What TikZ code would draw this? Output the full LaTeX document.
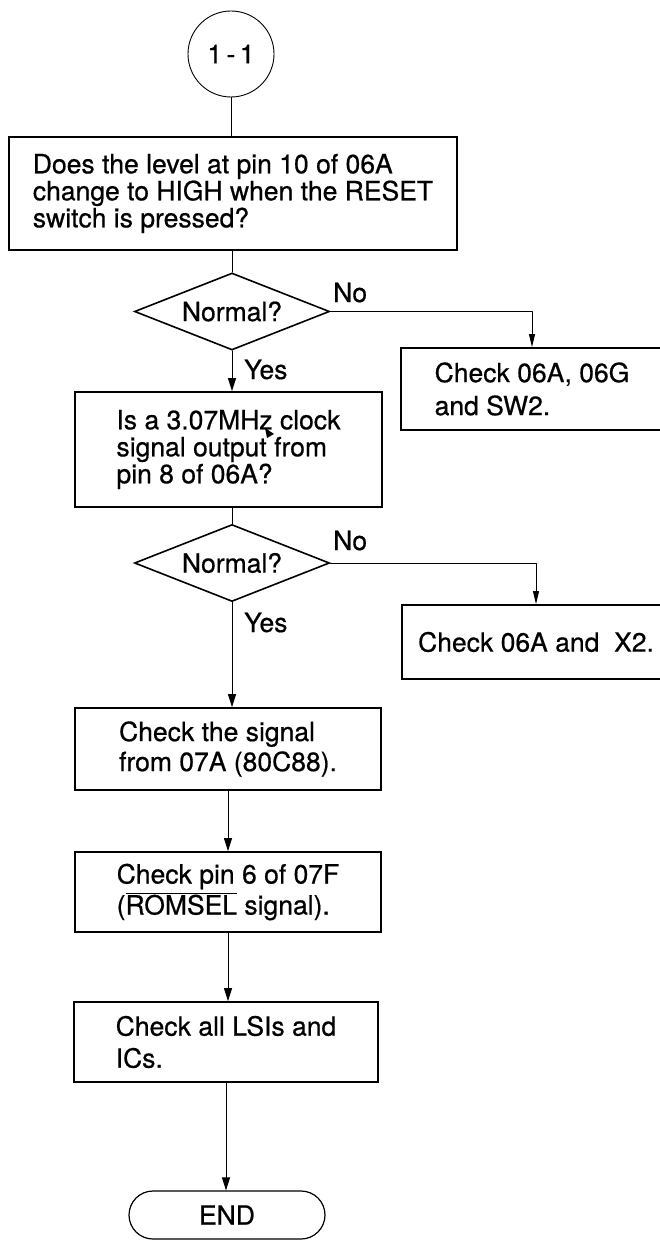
\documentclass[tikz,border=0pt]{standalone}
\usepackage{fontspec}
\setmainfont{TeX Gyre Heros}[FakeBold=0.6]
\usetikzlibrary{shapes.geometric,arrows.meta}
\newcommand{\barsig}[1]{$\overline{\hbox{#1}}$}
\begin{document}
\begin{tikzpicture}[x=1pt, y=-1pt, line cap=round, line join=round, >={Triangle[length=13pt,width=8pt]}, font=\fontsize{26.5}{27}\selectfont,
	stepbox/.style={draw, rectangle, line width=1.8pt, line join=miter, align=left, inner sep=0pt},
	lead/.style={font=\fontsize{26.5}{#1}\selectfont},
	query/.style={draw, diamond, aspect=2.5, line width=1.6pt, line join=miter, inner sep=0pt, minimum width=195pt, minimum height=77pt},
	link/.style={line width=0.9pt},
	lbl/.style={anchor=base west, inner sep=0pt}]
			\useasboundingbox (0,0) rectangle (660,1241);
			\fill[white] (0,0) rectangle (660,1241);
			\clip (0,0) rectangle (660,1241);
			\node[draw, circle, link, minimum size=86pt, inner sep=0pt] (start) at (231,54) {1\,-\,1};
			\node[stepbox, lead=27, minimum width=448pt, minimum height=113pt] (box1) at (233,193.5) {Does the level at pin 10 of 06A\\change to HIGH when the RESET\\switch is pressed?};
			\node[query] (diaA) at (232,311.5) {Normal?};
			\node[stepbox, lead=33, minimum width=262pt, minimum height=82pt] (ngA) at (532,389) {Check 06A, 06G\\and SW2.};
			\node[stepbox, lead=27, minimum width=307pt, minimum height=115pt] (box2) at (228.5,449.5) {Is a 3.07MHz clock\\signal output from\\pin 8 of 06A?};
			\node[query] (diaB) at (232,563) {Normal?};
			\node[stepbox, minimum width=268pt, minimum height=74pt] (ngB) at (536,642) {Check 06A and~~X2.};
			\node[stepbox, lead=30, minimum width=306pt, minimum height=82pt] (box3) at (228,749) {Check the signal\\from 07A (80C88).};
			\node[stepbox, lead=31, minimum width=306pt, minimum height=80pt] (box4) at (228,892) {Check pin 6 of 07F\\(\barsig{ROMSEL} signal).};
			\node[stepbox, lead=32, minimum width=304pt, minimum height=80pt] (box5) at (226,1042) {Check all LSIs and\\ICs.};
			\node[draw, line width=1.2pt, rounded corners=24pt, minimum width=196pt, minimum height=48pt, inner sep=0pt] (stop) at (227,1215) {END};
			\draw[link] (start.south) -- (start.south |- box1.north);
			\draw[link] (diaA.north |- box1.south) -- (diaA.north);
			\draw[link, ->] (diaA.south) -- (diaA.south |- box2.north);
			\draw[link] (diaB.north |- box2.south) -- (diaB.north);
			\draw[link, ->] (diaB.south) -- (diaB.south |- box3.north);
			\draw[link, ->] (box3.south) -- (box3.south |- box4.north);
			\draw[link, ->] (box4.south) -- (box4.south |- box5.north);
			\draw[link, ->] (box5.south) -- (box5.south |- stop.north);
			\draw[link, -{Triangle[length=13pt,width=6pt]}] (diaA.east) -| (ngA.north);
			\draw[link, -{Triangle[length=13pt,width=6pt]}] (diaB.east) -| (ngB.north);
			\foreach \px/\py/\lbl/\nm in {333/302/No/noA, 244/379/Yes/yesA, 333/550/No/noB, 244/632/Yes/yesB}
			\node[lbl] (\nm) at (\px,\py) {\lbl};
			\fill (265,428) -- (267,438) -- (274,434) -- cycle;
\end{tikzpicture}
\end{document}
